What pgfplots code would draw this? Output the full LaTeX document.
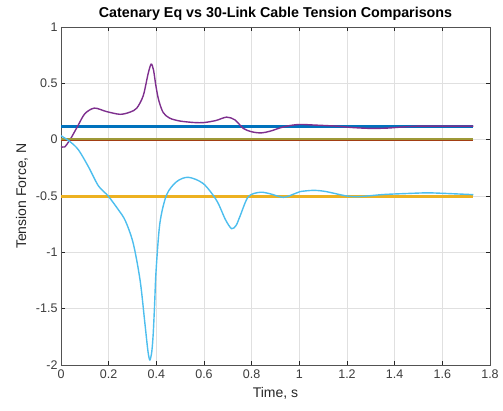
\documentclass[border=0pt]{standalone}
\usepackage{pgfplots}
\pgfplotsset{compat=1.18}
\usepackage{fontspec}
\setmainfont{Liberation Sans}
\definecolor{mblue}{rgb}{0,0.447,0.741}
\definecolor{morange}{rgb}{0.85,0.325,0.098}
\definecolor{myellow}{rgb}{0.929,0.694,0.125}
\definecolor{mpurple}{rgb}{0.494,0.184,0.556}
\definecolor{molive}{rgb}{0.62,0.6,0.22}
\definecolor{mlblue}{rgb}{0.301,0.745,0.933}
\definecolor{axgray}{rgb}{0.15,0.15,0.15}
\begin{document}
\begin{tikzpicture}
\begin{axis}[
  scale only axis,
  width=429pt, height=338pt,
  xmin=0, xmax=1.8, ymin=-2, ymax=1,
  xtick={0,0.2,0.4,0.6,0.8,1,1.2,1.4,1.6,1.8},
  xticklabels={0,0.2,0.4,0.6,0.8,1,1.2,1.4,1.6,1.8},
  ytick={-2,-1.5,-1,-0.5,0,0.5,1},
  yticklabels={-2,-1.5,-1,-0.5,0,0.5,1},
  grid=major,
  major grid style={draw=black!12, line width=0.6pt},
  tick align=inside,
  major tick length=4pt,
  axis line style={draw=axgray!80, line width=0.6pt},
  every tick/.style={draw=axgray, line width=0.6pt},
  tick label style={font=\fontsize{12.5}{14}\selectfont, text=axgray!90},
  xticklabel style={yshift=-1pt},
  title={\textbf{Catenary Eq vs 30-Link Cable Tension Comparisons}},
  every axis title/.style={font=\fontsize{14.3}{16}\selectfont\bfseries, at={(0.5,1.04)}, anchor=center, text=black},
  xlabel={Time, s},
  ylabel={Tension Force, N},
  label style={font=\fontsize{14}{16}\selectfont, text=axgray},
  xlabel style={at={(axis description cs:0.5,-0.083)}, anchor=center},
  ylabel style={at={(axis description cs:-0.091,0.5)}, anchor=center, rotate=0},
]
\addplot[mblue, line width=2.8pt] coordinates {(0,0.12) (1.73,0.12)};
\addplot[morange!75!black, line width=1.6pt] coordinates {(0,-0.009) (1.73,-0.009)};
\addplot[myellow, line width=3pt] coordinates {(0,-0.5) (1.73,-0.5)};
\addplot[mpurple, line width=1.4pt, smooth, tension=0.5] coordinates {
(0,-0.06) (0.015,-0.065) (0.038,0) (0.07,0.12) (0.1,0.23) (0.14,0.28) (0.19,0.25) (0.248,0.225) (0.29,0.245) (0.318,0.28) (0.345,0.39) (0.365,0.58) (0.378,0.67) (0.388,0.62) (0.398,0.48) (0.41,0.35) (0.429,0.24) (0.457,0.19) (0.5,0.165) (0.56,0.152) (0.6,0.152) (0.65,0.17) (0.695,0.2) (0.73,0.175) (0.765,0.10) (0.8,0.07) (0.84,0.06) (0.877,0.075) (0.92,0.105) (0.96,0.125) (1.003,0.135) (1.06,0.13) (1.157,0.12) (1.22,0.108) (1.3,0.1) (1.37,0.103) (1.436,0.113) (1.5,0.12) (1.6,0.12) (1.73,0.12)};
\addplot[molive, line width=2.2pt] coordinates {(0,0.004) (1.73,0.004)};
\addplot[mlblue, line width=1.4pt, smooth, tension=0.5] coordinates {
(0,0.035) (0.038,-0.018) (0.073,-0.09) (0.115,-0.24) (0.157,-0.41) (0.198,-0.5) (0.24,-0.62) (0.27,-0.72) (0.303,-0.92) (0.332,-1.25) (0.352,-1.63) (0.365,-1.88) (0.373,-1.955) (0.381,-1.88) (0.387,-1.72) (0.393,-1.45) (0.399,-1.16) (0.415,-0.74) (0.443,-0.49) (0.485,-0.373) (0.534,-0.334) (0.597,-0.39) (0.653,-0.54) (0.69,-0.71) (0.716,-0.79) (0.735,-0.76) (0.751,-0.68) (0.786,-0.506) (0.835,-0.467) (0.877,-0.48) (0.933,-0.512) (0.98,-0.48) (1.003,-0.461) (1.059,-0.45) (1.11,-0.46) (1.199,-0.5) (1.255,-0.505) (1.352,-0.487) (1.45,-0.478) (1.535,-0.472) (1.6,-0.476) (1.73,-0.488)};
\end{axis}
\pgfresetboundingbox
\path[use as bounding box] ([xshift=-61pt,yshift=-45pt]current axis.south west) rectangle ([xshift=13pt,yshift=27pt]current axis.north east);
\end{tikzpicture}
\end{document}
